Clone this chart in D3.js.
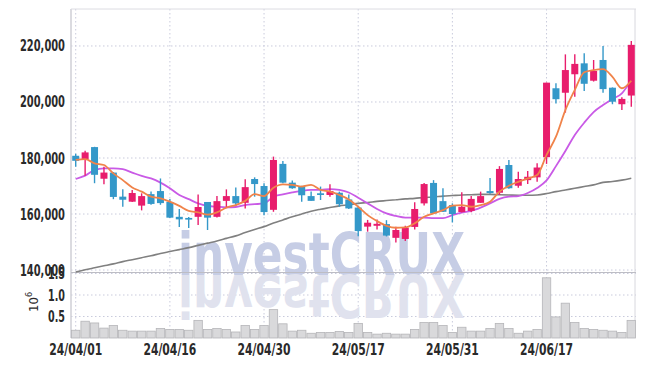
<!DOCTYPE html>
<html>
<head>
<meta charset="utf-8">
<script src="https://cdn.jsdelivr.net/npm/d3@7"></script>
<style>
  body { margin: 0; background: #fff; }
  svg { display: block; }
  text { font-family: "Liberation Sans Narrow", "DejaVu Sans Condensed", sans-serif; }
</style>
</head>
<body>
<svg id="chart" width="645" height="366"></svg>
<script>
const dates = ["24/04/01","24/04/02","24/04/03","24/04/04","24/04/05","24/04/08","24/04/09","24/04/11","24/04/12","24/04/15",
  "24/04/16","24/04/17","24/04/18","24/04/19","24/04/22","24/04/23","24/04/24","24/04/25","24/04/26","24/04/29",
  "24/04/30","24/05/02","24/05/03","24/05/07","24/05/08","24/05/09","24/05/10","24/05/13","24/05/14","24/05/16",
  "24/05/17","24/05/20","24/05/21","24/05/22","24/05/23","24/05/24","24/05/27","24/05/28","24/05/29","24/05/30",
  "24/05/31","24/06/03","24/06/04","24/06/05","24/06/07","24/06/10","24/06/11","24/06/12","24/06/13","24/06/14",
  "24/06/17","24/06/18","24/06/19","24/06/20","24/06/21","24/06/24","24/06/25","24/06/26","24/06/27","24/06/28"];

const opens = [180800,179500,183900,172600,174800,166200,164400,163000,167100,168200,
  164300,159000,158600,159000,164300,159000,164700,166400,164000,172500,
  170000,161500,177900,171200,169800,166400,167400,166800,167600,165200,
  162300,155500,155800,156400,151500,151100,155400,163800,171100,164600,
  163200,160700,161100,164000,168200,167600,177500,170100,172100,173100,
  180300,204900,203300,209900,213800,207600,215000,205100,199200,202300];
const highs = [181500,182600,184000,176900,175000,168800,168600,167400,168000,172700,
  165400,161800,158900,167000,164300,166400,168800,169500,172400,173100,
  171000,180500,178900,172000,170100,168000,169800,170600,168000,167000,
  162600,157900,158000,157800,155500,155800,164200,171100,172100,169200,
  163800,167800,166400,168000,172900,177100,179300,175100,175400,178100,
  206900,206700,217000,217000,217400,215000,220000,205200,201700,221800];
const lows = [176900,173700,171000,170600,165300,162600,164300,161300,163300,163300,
  158600,155400,155000,156100,154300,158800,162200,162900,162000,166200,
  159600,160800,171000,169000,164400,164700,165000,166200,162600,161800,
  152100,153700,154500,152000,149800,150400,154500,163000,160200,160700,
  157000,160500,160600,164000,167200,166800,169000,169400,170700,171500,
  177900,199500,196200,201900,203900,207300,203300,199200,197100,198300];
const closes = [179000,182000,174000,174800,166100,165100,167500,166400,163600,163900,
  158700,158100,158000,162500,158700,164600,166400,163800,169600,170700,
  160700,179300,171200,169200,166700,164700,166800,168200,163500,162000,
  153900,156900,156500,152300,154300,155100,161800,170700,160200,160800,
  160000,162600,165400,166400,167500,176100,169200,172500,173300,176600,
  206900,201000,211400,213600,206500,211100,204600,200100,201100,220400];
// volume in millions of shares
const volumes = [0.18,0.39,0.35,0.23,0.29,0.18,0.16,0.16,0.16,0.22,
  0.20,0.20,0.18,0.41,0.20,0.22,0.20,0.14,0.29,0.20,
  0.29,0.66,0.33,0.16,0.18,0.11,0.13,0.13,0.15,0.13,
  0.34,0.13,0.09,0.11,0.09,0.09,0.20,0.36,0.36,0.29,
  0.13,0.25,0.16,0.16,0.22,0.34,0.22,0.11,0.16,0.20,
  1.40,0.49,0.81,0.36,0.22,0.20,0.18,0.16,0.13,0.41];
const ma5 = [179300,179600,178100,177500,174500,172100,169500,168000,166200,165600,
  164400,162900,161100,160600,159800,160600,162300,163200,164700,167100,
  166400,169400,170600,170400,169800,170400,168600,168000,166800,165200,
  162600,159600,157500,155800,155100,155200,156700,159000,160200,161400,
  163000,163200,162600,163200,164400,168000,170100,171500,172700,173900,
  181100,187600,197100,204300,210600,211400,211700,209000,204900,207600];
const ma20 = [172500,173700,175700,176300,176300,176000,174800,173600,172700,171200,
  169200,166800,165300,163800,162900,162600,162400,162500,163200,163500,
  163800,166200,167000,167700,168300,168600,168600,168900,168600,167700,
  165800,163800,161800,160200,159300,158700,158700,158700,158500,158500,
  159600,160500,161100,162300,163800,165400,166200,166400,167500,169300,
  172000,177100,182500,188200,192600,196400,198900,201100,203100,207900];
const ma120 = [139300,140100,140800,141500,142200,143000,143700,144400,145100,145900,
  146600,147300,148000,148800,149600,150400,151300,152200,153400,154500,
  155500,156800,157900,159000,160000,161000,161700,162300,162900,163300,
  163800,164100,164500,164800,165100,165400,165600,165900,166100,166400,
  166600,166800,166900,167000,167000,166900,166800,166700,166700,166800,
  167300,168000,168600,169200,169800,170400,171300,171600,172100,172800];
const priceTicks = [140000, 160000, 180000, 200000, 220000];
const volTicks = [0.5, 1.0, 1.5];
const dateTicks = ["24/04/01","24/04/16","24/04/30","24/05/17","24/05/31","24/06/17"];

const UP = "#e81d6c", DOWN = "#3498c9";
const L = 71, R = 636, TOP = 9, SPLIT = 272, BOT = 338;

const svg = d3.select("#chart");
const x = d3.scaleBand().domain(dates).range([L, R]).padding(0);
const xc = d => x(d) + x.bandwidth() / 2;
const y = d3.scaleLinear().domain([139300, 233200]).range([SPLIT, TOP]);
const vy = d3.scaleLinear().domain([0, 1.535]).range([BOT, SPLIT]);

// grid
const grid = svg.append("g").attr("stroke", "#c9cbdc").attr("stroke-width", 1).attr("stroke-dasharray", "1.5,2.5");
grid.selectAll(".hp").data(priceTicks).enter().append("line")
  .attr("x1", L).attr("x2", R).attr("y1", d => y(d)).attr("y2", d => y(d));
grid.selectAll(".hv").data(volTicks).enter().append("line")
  .attr("x1", L).attr("x2", R).attr("y1", d => vy(d)).attr("y2", d => vy(d));
grid.selectAll(".v").data(dateTicks).enter().append("line")
  .attr("x1", d => xc(d)).attr("x2", d => xc(d)).attr("y1", TOP).attr("y2", BOT);

// watermark + reflection
const wm = svg.append("g");
wm.append("text").attr("x", 178).attr("y", 275)
  .attr("textLength", 287).attr("lengthAdjust", "spacingAndGlyphs")
  .style("font-family", "'DejaVu Sans', sans-serif").style("font-weight", "700").style("font-size", "58px")
  .style("fill", "#c6cde5").text("investCRUX");
wm.append("text").attr("transform", "translate(0,550) scale(1,-1)").attr("x", 178).attr("y", 275)
  .attr("textLength", 287).attr("lengthAdjust", "spacingAndGlyphs")
  .style("font-family", "'DejaVu Sans', sans-serif").style("font-weight", "700").style("font-size", "58px")
  .style("fill", "#e0e2ee").text("investCRUX");

// frame
svg.append("line").attr("x1", L).attr("x2", L).attr("y1", TOP).attr("y2", BOT).attr("stroke", "#cfcfd6").attr("stroke-width", 1.5);
svg.append("line").attr("x1", R - 1).attr("x2", R - 1).attr("y1", TOP).attr("y2", BOT).attr("stroke", "#d8d8de");
svg.append("line").attr("x1", L).attr("x2", R).attr("y1", TOP).attr("y2", TOP).attr("stroke", "#dcdce2");
svg.append("line").attr("x1", L).attr("x2", R).attr("y1", SPLIT + 0.5).attr("y2", SPLIT + 0.5).attr("stroke", "#bdbdc4");

// volume bars
svg.append("g").selectAll("rect").data(dates).enter().append("rect")
  .attr("x", d => x(d) + 0.5).attr("width", x.bandwidth() - 1)
  .attr("y", (d, i) => vy(volumes[i])).attr("height", (d, i) => BOT - vy(volumes[i]))
  .attr("fill", "#d9d9db").attr("stroke", "#b5b5b8").attr("stroke-width", 0.8);

// moving averages
const line = arr => d3.line().x((d, i) => xc(dates[i])).y(d => y(d)).curve(d3.curveMonotoneX)(arr);
svg.append("path").attr("d", line(ma120)).attr("fill", "none").attr("stroke", "#808080").attr("stroke-width", 1.6);
svg.append("path").attr("d", line(ma20)).attr("fill", "none").attr("stroke", "#c95ae6").attr("stroke-width", 1.8);

// candles
const cw = 7;
const candles = svg.append("g").selectAll("g").data(dates).enter().append("g");
candles.append("line")
  .attr("x1", d => xc(d)).attr("x2", d => xc(d))
  .attr("y1", (d, i) => y(highs[i])).attr("y2", (d, i) => y(lows[i]))
  .attr("stroke", (d, i) => closes[i] >= opens[i] ? UP : DOWN).attr("stroke-width", 1.4);
candles.append("rect")
  .attr("x", d => xc(d) - cw / 2).attr("width", cw)
  .attr("y", (d, i) => y(Math.max(opens[i], closes[i])))
  .attr("height", (d, i) => Math.max(1.5, Math.abs(y(opens[i]) - y(closes[i]))))
  .attr("fill", (d, i) => closes[i] >= opens[i] ? UP : DOWN);

svg.append("path").attr("d", line(ma5)).attr("fill", "none").attr("stroke", "#f0834a").attr("stroke-width", 1.8);

// axis labels (condensed to match the narrow face of the original)
const fmt = d3.format(",");
const lab = svg.append("g").style("font-size", "15.5px").style("font-weight", "700").style("fill", "#2a2a2a");
lab.selectAll(".py").data(priceTicks).enter().append("text")
  .attr("x", 65).attr("y", d => y(d) + 5.5).attr("text-anchor", "end")
  .attr("textLength", 45).attr("lengthAdjust", "spacingAndGlyphs").text(d => fmt(d));
lab.selectAll(".vy").data(volTicks).enter().append("text")
  .attr("x", 65).attr("y", d => vy(d) + 5.5).attr("text-anchor", "end")
  .attr("textLength", 17).attr("lengthAdjust", "spacingAndGlyphs").text(d => d.toFixed(1));
lab.selectAll(".dx").data(dateTicks).enter().append("text")
  .attr("x", d => xc(d)).attr("y", 355).attr("text-anchor", "middle")
  .attr("textLength", 53).attr("lengthAdjust", "spacingAndGlyphs").text(d => d);

const exp = svg.append("text").attr("transform", "translate(38,312) rotate(-90)")
  .style("font-size", "13px").style("fill", "#2a2a2a");
exp.append("tspan").text("10");
exp.append("tspan").attr("dy", -6).style("font-size", "9px").text("6");
</script>
</body>
</html>
